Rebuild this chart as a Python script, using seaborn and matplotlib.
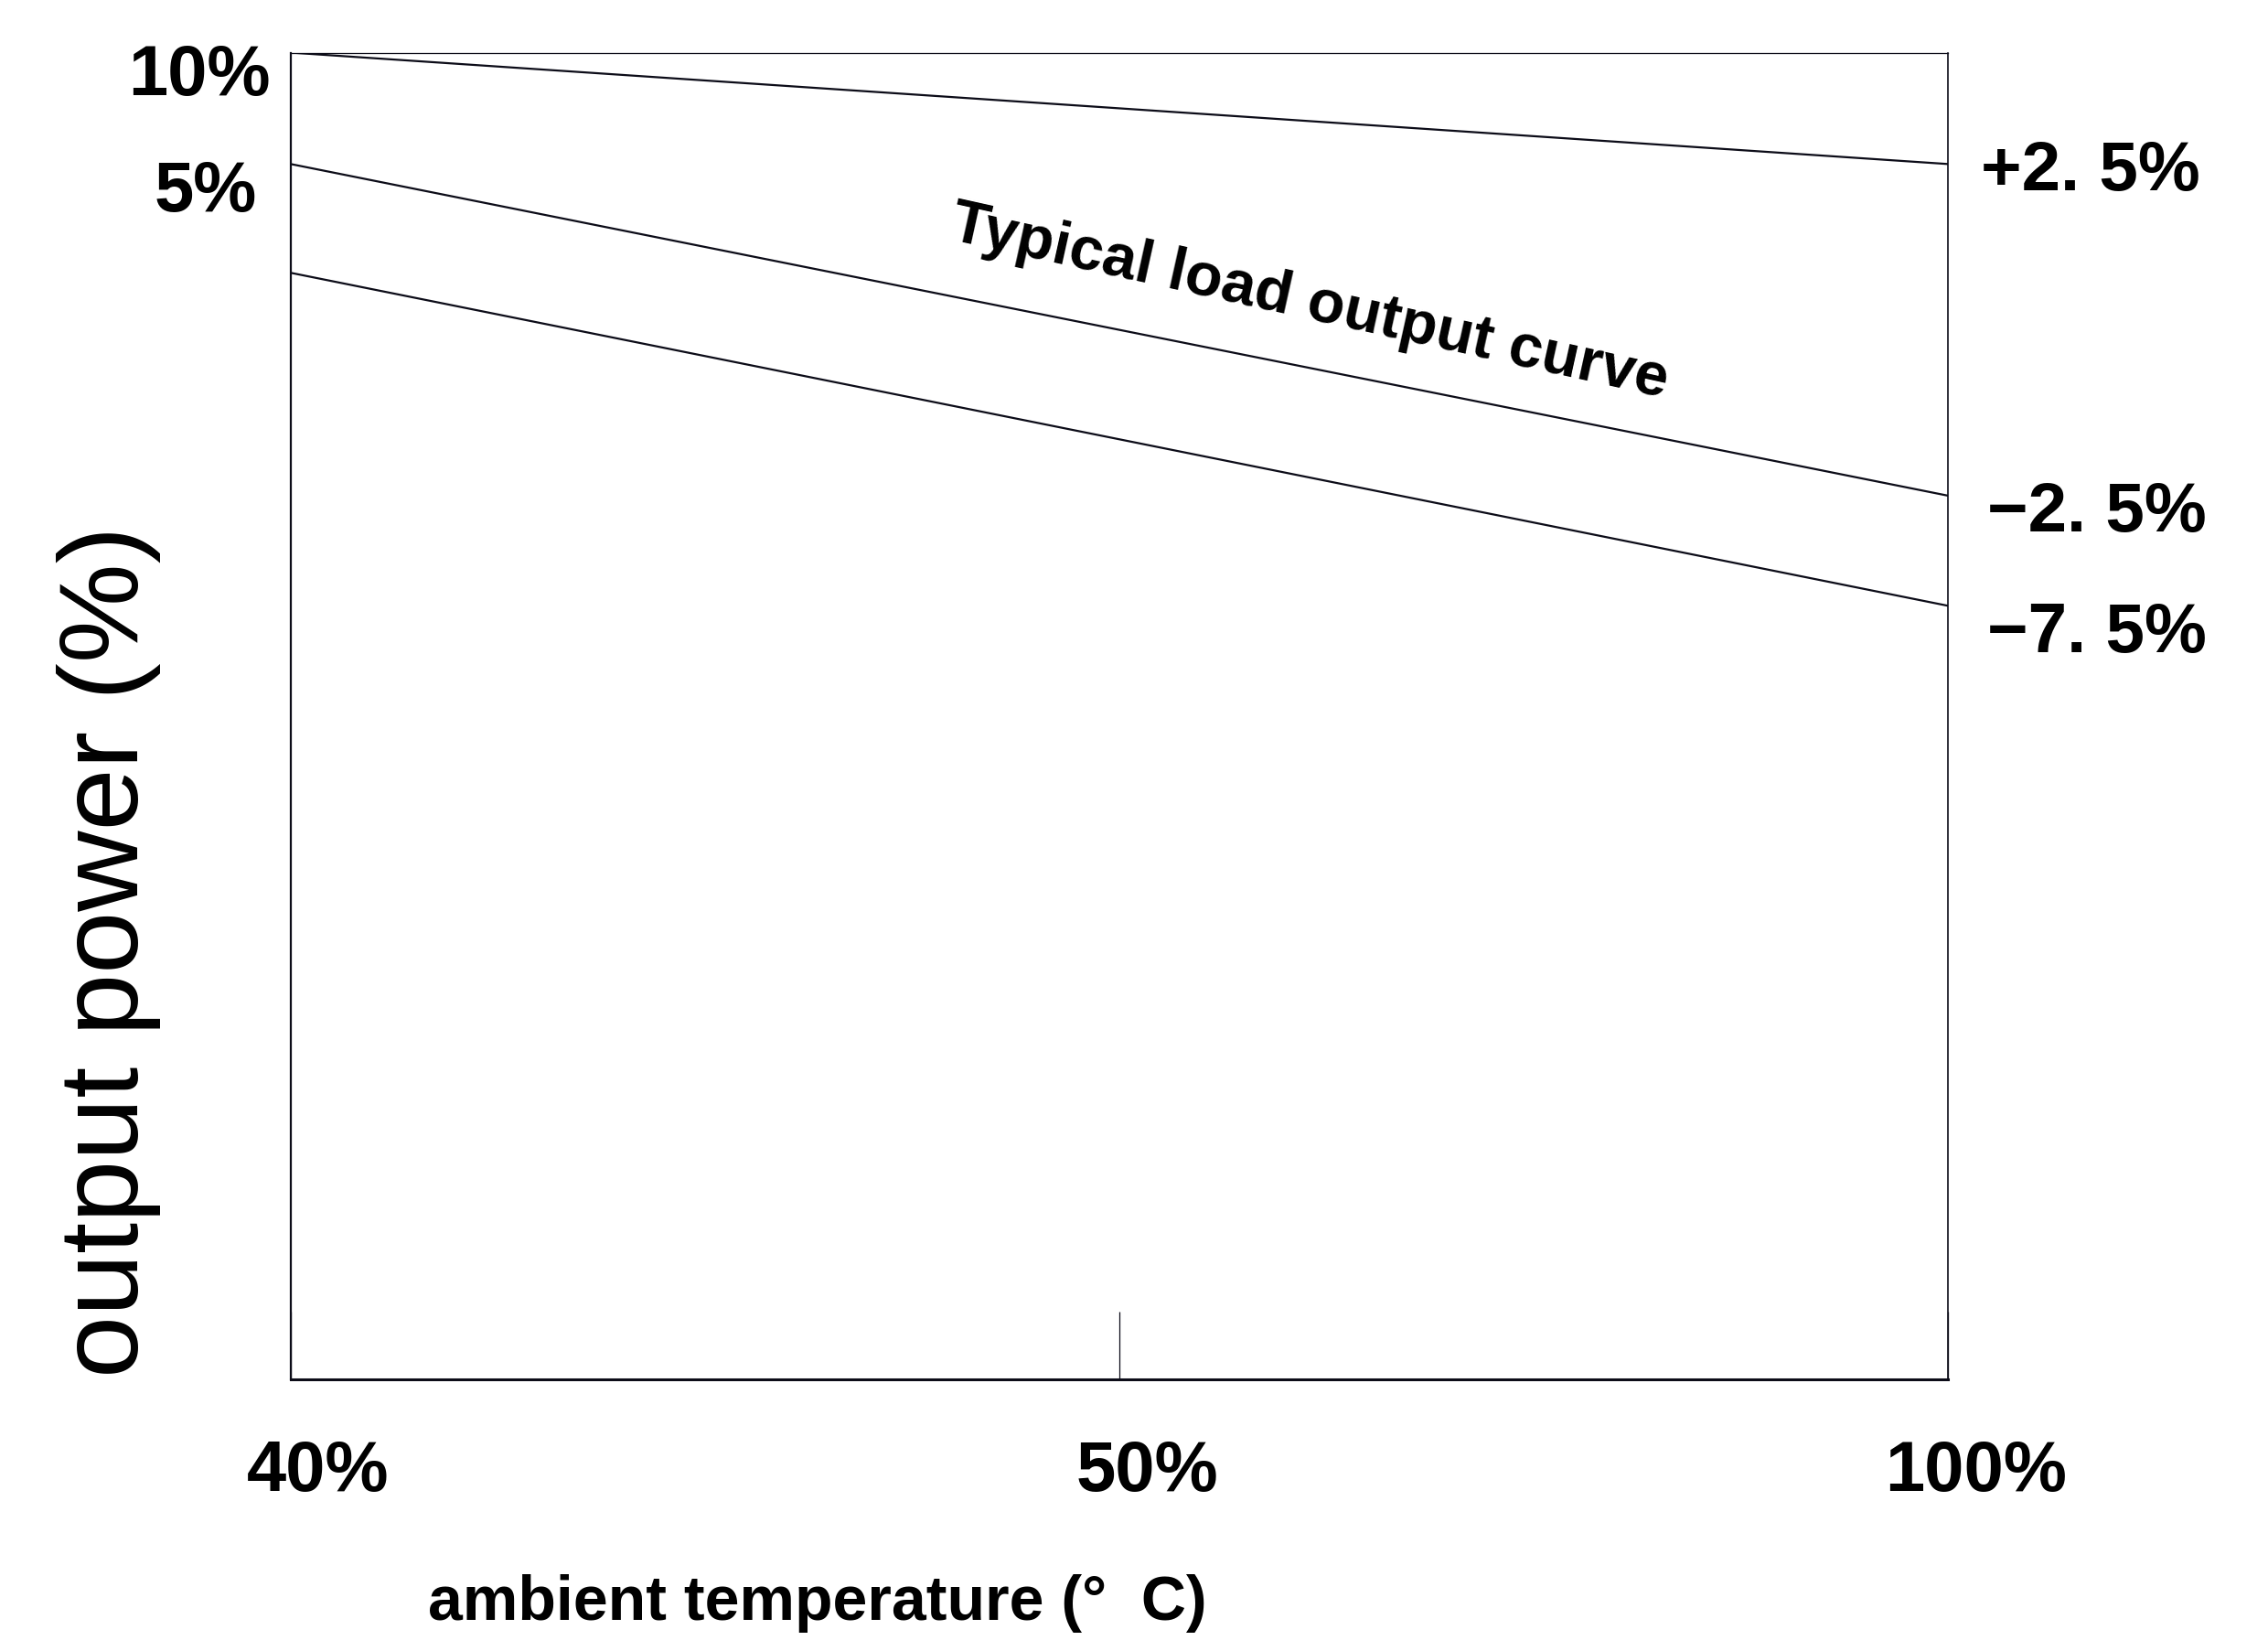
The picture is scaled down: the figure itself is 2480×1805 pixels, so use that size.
import matplotlib
matplotlib.use("Agg")
import matplotlib.pyplot as plt
import matplotlib.transforms as mtransforms
import numpy as np
import pandas as pd
import seaborn as sns

# x positions are schematic: 40% at left edge, 50% in the middle, 100% at right edge
x_ticks = [0, 1, 2]
x_labels = ["40%", "50%", "100%"]
x_ends = [0, 2]

# curve heights in plot units (0 = bottom frame, 100 = top frame)
upper = [100.0, 91.6]
typical = [91.6, 66.6]
lower = [83.4, 58.3]

left_ticks = [98.8, 90.1]
left_labels = ["10%", "5%"]
right_ticks = [91.6, 65.9, 56.8]
right_labels = ["+2. 5%", "\u22122. 5%", "\u22127. 5%"]

df = pd.DataFrame({
    "x": x_ends * 3,
    "y": upper + typical + lower,
    "curve": ["upper"] * 2 + ["typical"] * 2 + ["lower"] * 2,
})

sns.set_theme(style="white")
plt.rcParams["font.family"] = ["Liberation Sans", "DejaVu Sans"]
for key in ["text.color", "axes.labelcolor", "xtick.color", "ytick.color"]:
    plt.rcParams[key] = "black"
ink = "#0c0c18"

fig = plt.figure(figsize=(24.8, 18.06), dpi=100)
ax = fig.add_axes([0.1282, 0.1645, 0.859 - 0.1282, 0.9676 - 0.1645])

sns.lineplot(data=df, x="x", y="y", units="curve", estimator=None,
             color=ink, linewidth=1.6, ax=ax, legend=False)

ax.set_xlim(0, 2)
ax.set_ylim(0, 100)

for side, lw in [("left", 1.6), ("top", 0.9), ("right", 1.2), ("bottom", 2.2)]:
    ax.spines[side].set_visible(True)
    ax.spines[side].set_color(ink)
    ax.spines[side].set_linewidth(lw)

# x axis: only the middle inner tick is visible
ax.set_xticks(x_ticks)
ax.set_xticklabels(x_labels, fontsize=56, fontweight="bold")
ax.tick_params(axis="x", direction="in", length=53, width=0.9, color=ink, pad=46,
               bottom=True)
shift = mtransforms.ScaledTranslation(30 / 100, 0, fig.dpi_scale_trans)
for lab in ax.get_xticklabels():
    lab.set_transform(lab.get_transform() + shift)

# left labels: two pads, done with major/minor ticks
ax.set_yticks([left_ticks[0]])
ax.set_yticklabels([left_labels[0]], fontsize=56, fontweight="bold")
ax.set_yticks([left_ticks[1]], minor=True)
ax.set_yticklabels([left_labels[1]], minor=True, fontsize=56, fontweight="bold")
ax.tick_params(axis="y", which="major", length=0, pad=16)
ax.tick_params(axis="y", which="minor", length=0, pad=27)

# right labels at line ends
rax = ax.twinx()
rax.set_ylim(ax.get_ylim())
rax.set_yticks(right_ticks[:1])
rax.set_yticklabels(right_labels[:1], fontsize=55, fontweight="bold")
rax.set_yticks(right_ticks[1:], minor=True)
rax.set_yticklabels(right_labels[1:], minor=True, fontsize=55, fontweight="bold")
rax.tick_params(axis="y", which="major", length=0, pad=26)
rax.tick_params(axis="y", which="minor", length=0, pad=31)
rax.grid(False)
for side in rax.spines:
    rax.spines[side].set_visible(False)

ax.set_xlabel("ambient temperature (°  C)", fontsize=49, fontweight="bold")
ax.xaxis.set_label_coords(0.318, -0.168)
ax.xaxis.label.set_va("center")
ax.set_ylabel("output power (%)", fontsize=88)
ax.yaxis.set_label_coords(-0.110, 0.323)
ax.yaxis.label.set_va("center")

ax.text(1.229, 81.2, "Typical load output curve", fontsize=48, fontweight="bold",
        rotation=-12.5, ha="center", va="center", rotation_mode="anchor")

fig.savefig("out.png", dpi=100, facecolor="white")
